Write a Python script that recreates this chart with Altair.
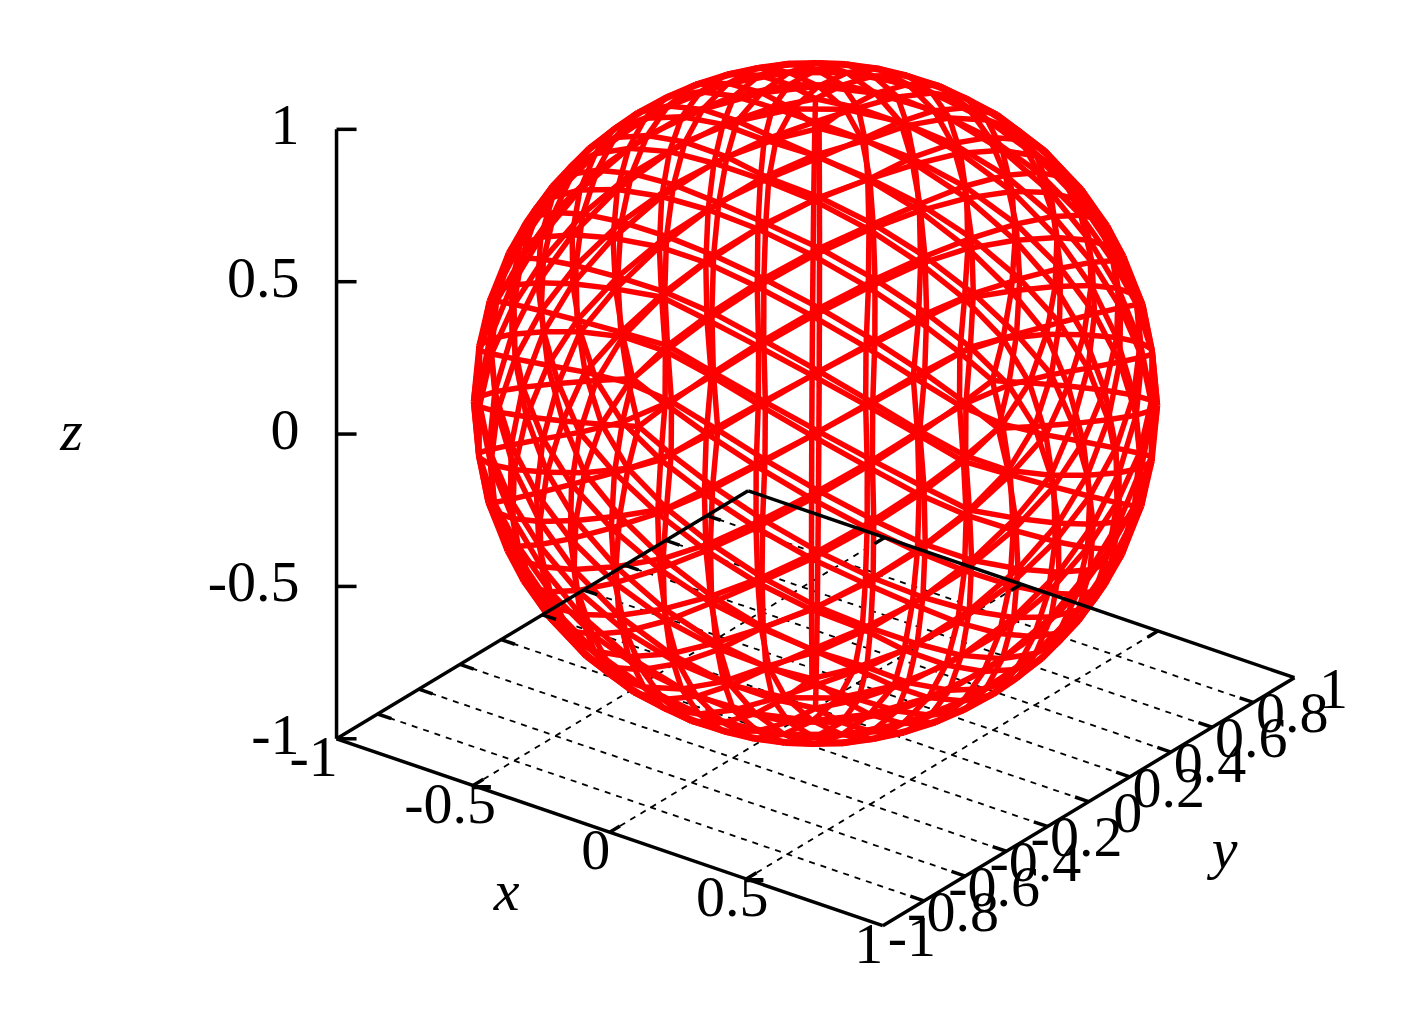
import math
import altair as alt
import pandas as pd

# View (box corners and the z axis).
ROT_X, ROT_Z = 63.0, 37.0
UNIT_PX, CX_PX, CY_PX = 342.0, 815.5, 403.5
W, H = 1388, 1008

# Geodesic sphere: corners of the base solid (lat, lon in degrees), its faces, and the lattice read
# from the picture. The mesh itself is built from these (it is geometry, not a measured series).
corner_lat = [90, 26.565, 26.565, 26.565, 26.565, 26.565, -26.565, -26.565, -26.565, -26.565, -26.565, -90]
corner_lon = [0, 54.33, 126.33, 198.33, 270.33, 342.33, 90.33, 162.33, 234.33, 306.33, 18.33, 0]
faces = [
    (0,1,2),(0,2,3),(0,3,4),(0,4,5),(0,5,1),
    (1,2,6),(2,3,7),(3,4,8),(4,5,9),(5,1,10),
    (6,7,2),(7,8,3),(8,9,4),(9,10,5),(10,6,1),
    (11,6,7),(11,7,8),(11,8,9),(11,9,10),(11,10,6),
]
FINE = 12

x_ticks = [-1, -0.5, 0, 0.5, 1]
x_labels = ["-1", "-0.5", "0", "0.5", "1"]
y_ticks = [-1, -0.8, -0.6, -0.4, -0.2, 0, 0.2, 0.4, 0.6, 0.8, 1]
y_labels = ["-1", "-0.8", "-0.6", "-0.4", "-0.2", "0", "0.2", "0.4", "0.6", "0.8", "1"]
z_ticks = [-1, -0.5, 0, 0.5, 1]
z_labels = ["-1", "-0.5", "0", "0.5", "1"]

a, b = math.radians(ROT_Z), math.radians(ROT_X)
def proj(x, y, z):
    return (x*math.cos(a) + y*math.sin(a),
            -x*math.sin(a)*math.cos(b) + y*math.cos(a)*math.cos(b) + z*math.sin(b))

def seg(x0, y0, z0, x1, y1, z1):
    p, q = proj(x0, y0, z0), proj(x1, y1, z1)
    return {"x": p[0], "y": p[1], "x2": q[0], "y2": q[1]}

def unit(p):
    n = math.sqrt(sum(c*c for c in p))
    return tuple(c/n for c in p)

corners = [(math.cos(math.radians(la))*math.cos(math.radians(lo)),
            math.cos(math.radians(la))*math.sin(math.radians(lo)),
            math.sin(math.radians(la))) for la, lo in zip(corner_lat, corner_lon)]

def point(face, w):
    return unit(tuple(sum(w[c]*corners[f][m] for c, f in enumerate(face)) for m in range(3)))

edges = {}
def add(p, q):
    edges[tuple(sorted((tuple(round(c, 5) for c in p), tuple(round(c, 5) for c in q))))] = (p, q)

steps = [(1,1,-2),(1,-2,1),(-2,1,1),(-1,-1,2),(-1,2,-1),(2,-1,-1)]
for face in faces:
    for i in range(FINE+1):
        for j in range(FINE+1-i):
            w = (i, j, FINE-i-j)
            if (w[0]-w[1]) % 3:
                continue
            for d in steps:
                nw = tuple(w[m]+d[m] for m in range(3))
                if min(nw) >= 0:
                    add(point(face, w), point(face, nw))
# mesh edges that step over a side shared by two faces
for f1 in faces:
    for f2 in faces:
        shared = [c for c in f1 if c in f2]
        if len(shared) != 2:
            continue
        A, B = shared
        C1 = [c for c in f1 if c not in shared][0]
        C2 = [c for c in f2 if c not in shared][0]
        for i in range(FINE):
            j = FINE - 1 - i
            if (i-j) % 3 == 0:
                add(point((A, B, C1), (i, j, 1)), point((A, B, C2), (i, j, 1)))
mesh_rows = [seg(*p, *q) for p, q in edges.values()]

grid_rows, tick_rows = [], []
TL = 0.05
for t in x_ticks[1:-1]:
    grid_rows.append(seg(t, -1, -1, t, 1, -1))
    tick_rows.append(seg(t, -1, -1, t, -1+TL, -1))
    tick_rows.append(seg(t, 1, -1, t, 1-TL, -1))
for t in y_ticks[1:-1]:
    grid_rows.append(seg(-1, t, -1, 1, t, -1))
    tick_rows.append(seg(-1, t, -1, -1+TL, t, -1))
    tick_rows.append(seg(1, t, -1, 1-TL, t, -1))
frame = [seg(-1,-1,-1,1,-1,-1), seg(1,-1,-1,1,1,-1), seg(-1,-1,-1,-1,-1,1),
         seg(1,1,-1,-1,1,-1), seg(-1,1,-1,-1,-1,-1)]
for t in z_ticks:
    p = proj(-1, -1, t)
    tick_rows.append({"x": p[0], "y": p[1], "x2": p[0] + 20/UNIT_PX, "y2": p[1]})

xs = alt.Scale(domain=[(8-CX_PX)/UNIT_PX, (8+W-CX_PX)/UNIT_PX], range=[0, W])
ys = alt.Scale(domain=[(CY_PX-8-H)/UNIT_PX, (CY_PX-8)/UNIT_PX], range=[H, 0])
X = alt.X("x:Q", scale=xs, axis=None)
Y = alt.Y("y:Q", scale=ys, axis=None)

def rules(rows, **kw):
    return alt.Chart(pd.DataFrame(rows)).mark_rule(**kw).encode(x=X, y=Y, x2="x2:Q", y2="y2:Q")

FONT = "Liberation Serif"
def texts(rows, align="center", style="normal"):
    return alt.Chart(pd.DataFrame(rows)).mark_text(font=FONT, fontSize=58, fontStyle=style, color="black",
                                                   baseline="middle", align=align).encode(x=X, y=Y, text="t:N")

def placed(p, s, dx, dy):
    return {"x": p[0] + dx/UNIT_PX, "y": p[1] - dy/UNIT_PX, "t": s}

x_lab = [placed(proj(t, -1, -1), s, -23 if s.startswith("-") else -14, 20) for t, s in zip(x_ticks, x_labels)]
y_lab = [placed(proj(1, t, -1), s, 29 if s.startswith("-") else 39, 13) for t, s in zip(y_ticks, y_labels)]
z_lab = [placed(proj(-1, -1, t), s, -37, -2) for t, s in zip(z_ticks, z_labels)]
titles = [placed(proj(0, -1, -1), "x", -103, 61), placed(proj(1, 0, -1), "y", 136, 49), placed(proj(-1, -1, 0), "z", -265, -1)]

chart = alt.layer(
    rules(grid_rows, color="black", strokeWidth=1.8, strokeDash=[6, 6]),
    rules(mesh_rows, color="#ff0000", strokeWidth=5.5),
    rules(frame, color="black", strokeWidth=3.5),
    rules(tick_rows, color="black", strokeWidth=3.5),
    texts(x_lab + y_lab), texts(z_lab, align="right"), texts(titles, style="italic"),
).properties(width=W, height=H, padding=0, background="white", autosize=alt.AutoSizeParams(type="none")
).configure_view(stroke=None)
chart.save("out.html", embed_options={"renderer": "svg", "actions": False})
